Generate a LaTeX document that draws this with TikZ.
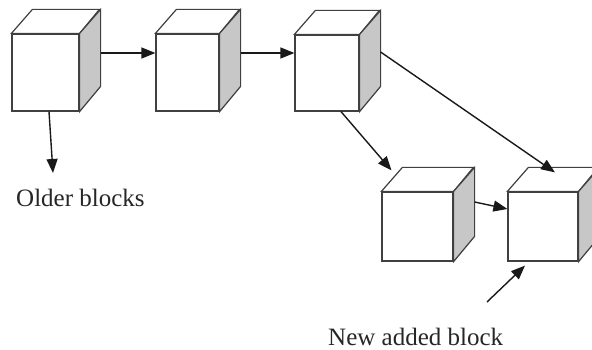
\documentclass[tikz,border=0pt]{standalone}
\usepackage{fontspec}
\setmainfont{Liberation Serif}
\usetikzlibrary{arrows.meta,calc}
\begin{document}
\begin{tikzpicture}
[x=1pt,y=-1pt,%
  frontFace/.style={shape=rectangle,draw=black!75,fill=white,line width=1.2pt,inner sep=0pt},%
  topFace/.style={draw=black!75,fill=white,line width=1.2pt,line join=miter},%
  sideFace/.style={draw=black!75,fill=black!22,line width=1.2pt,line join=miter},%
  link/.style={-{Triangle[length=14pt,width=11pt]},line width=1.4pt,color=black!90},%
  caption/.style={anchor=base west,inner sep=0pt,font=\fontsize{25}{28}\selectfont,color=black!85}]
\clip (0,0) rectangle (592,350);
%% blocks: name/x/y/width/height
\foreach \blockname/\x/\y/\w/\h in {c1/45.5/72.5/67/77, c2/187.5/72.5/63/77, c3/327/73/64/76, c4/417.5/226.5/71/69, c5/543/226.5/70/69}
{
  \node (\blockname) at (\x,\y) [frontFace,minimum width=\w pt,minimum height=\h pt] {};
  \draw[topFace] (\blockname.north west) -- ++(21,-24) -- ++(\w,0) -- (\blockname.north east) -- cycle;
  \draw[sideFace] (\blockname.north east) -- ++(21,-24) -- ++(0,\h) -- (\blockname.south east) -- cycle;
}
%% labels and free ends
\node (older) at (16,206) [caption] {Older blocks};
\node (newblock) at (328,345) [caption] {New added block};
\coordinate (olderEnd) at (53,173);
\coordinate (newStart) at (487,302);
%% arrows
\draw[link] ([xshift=21pt,yshift=19.5pt]c1.east) -- ([yshift=19.5pt]c2.west);
\draw[link] ([xshift=21pt,yshift=19.5pt]c2.east) -- ([yshift=20pt]c3.west);
\draw[link] ([xshift=14pt]c3.south) -- ([xshift=-26pt,yshift=21pt]c4.north);
\draw[link] ([xshift=21pt,yshift=21pt]c3.east) -- ([xshift=12pt,yshift=19pt]c5.north);
\draw[link] ([xshift=21pt,yshift=24.5pt]c4.east) -- ([yshift=17.5pt]c5.west);
\draw[link] ([xshift=3.5pt]c1.south) -- (olderEnd);
\draw[link] (newStart) -- ([xshift=-18pt,yshift=-4pt]c5.south);
\end{tikzpicture}
\end{document}
